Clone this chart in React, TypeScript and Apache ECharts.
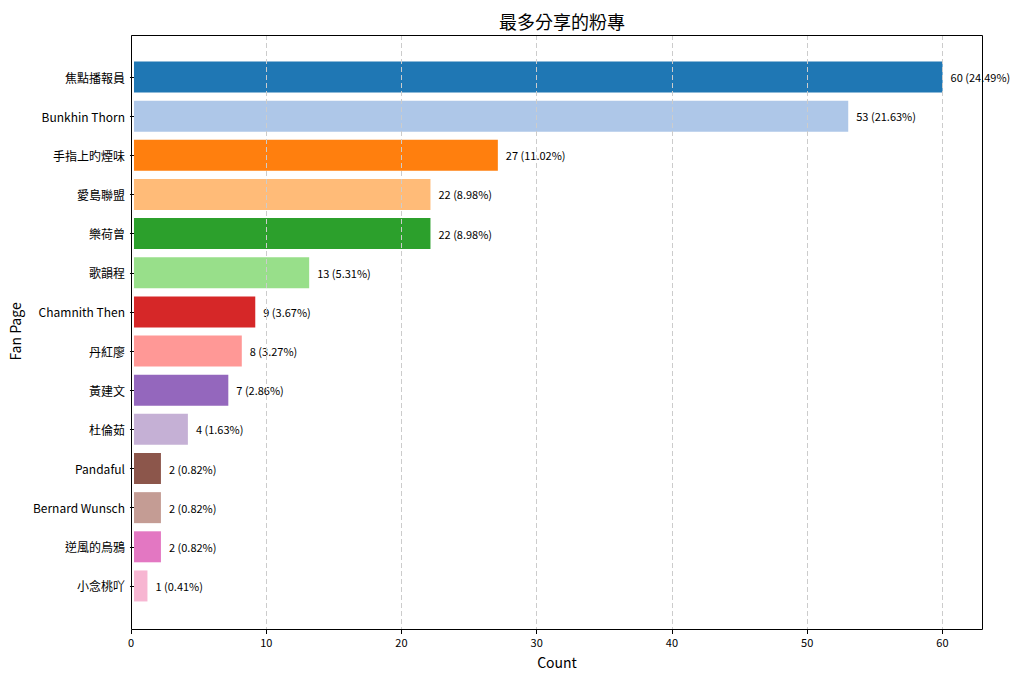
import React, { useEffect, useRef } from "react";
import * as echarts from "echarts";

const categories = [
  "焦點播報員",
  "Bunkhin Thorn",
  "手指上旳煙味",
  "愛島聯盟",
  "樂荷曾",
  "歌韻程",
  "Chamnith Then",
  "丹紅廖",
  "黃建文",
  "杜倫茹",
  "Pandaful",
  "Bernard Wunsch",
  "逆風的烏鴉",
  "小念桃吖",
];
const counts = [60, 53, 27, 22, 22, 13, 9, 8, 7, 4, 2, 2, 2, 1];
const percents = ["24.49", "21.63", "11.02", "8.98", "8.98", "5.31", "3.67", "3.27", "2.86", "1.63", "0.82", "0.82", "0.82", "0.41"];
const colors = [
  "#1f77b4", "#aec7e8", "#ff7f0e", "#ffbb78", "#2ca02c", "#98df8a", "#d62728",
  "#ff9896", "#9467bd", "#c5b0d5", "#8c564b", "#c49c94", "#e377c2", "#f7b6d2",
];
const xTicks = [0, 10, 20, 30, 40, 50, 60];

const FONT = '"Noto Sans CJK TC", "Noto Sans CJK SC", "Noto Sans", sans-serif';

export default function App() {
  const ref = useRef<HTMLDivElement>(null);
  useEffect(() => {
    document.body.style.margin = "0";
    const chart = echarts.init(ref.current!, null, { renderer: "svg" });
    const left = 131, right = 1024 - 983, top = 35, bottom = 682 - 630;
    const band = 39.15;
    const innerTop = 77 - band / 2;
    const innerH = band * categories.length;
    chart.setOption({
      animation: false,
      textStyle: { fontFamily: FONT },
      title: {
        text: "最多分享的粉專",
        left: 557,
        textAlign: "center",
        top: 7,
        textStyle: { fontFamily: FONT, fontSize: 18, fontWeight: "normal", color: "#000" },
      },
      graphic: [
        {
          type: "rect",
          z: 100,
          shape: { x: left + 0.5, y: top + 0.5, width: 983 - left - 1, height: 630 - top - 1 },
          style: { fill: "none", stroke: "#000", lineWidth: 1 },
          silent: true,
        },
      ],
      grid: [
        { left, right, top, bottom, show: false, containLabel: false },
        { left, right, top: innerTop, height: innerH, containLabel: false },
      ],
      xAxis: [
        {
          type: "value",
          gridIndex: 0,
          min: 0,
          max: 63,
          interval: 10,
          z: 10,
          axisLine: { show: false },
          axisTick: { show: true, length: 4, lineStyle: { color: "#000" }, customValues: xTicks },
          axisLabel: {
            color: "#000",
            fontSize: 11,
            fontFamily: FONT,
            margin: 6,
            customValues: xTicks,
          },
          splitLine: { show: true, lineStyle: { color: "#cccccc", type: [5, 3], width: 1 } },
          name: "Count",
          nameLocation: "middle",
          nameGap: 25,
          nameTextStyle: { fontSize: 14, color: "#000", fontFamily: FONT },
        },
        { type: "value", gridIndex: 1, min: 0, max: 63, show: false },
      ],
      yAxis: [
        { type: "value", gridIndex: 0, show: false, min: 0, max: 1 },
        {
          type: "category",
          gridIndex: 1,
          data: categories,
          inverse: true,
          axisLine: { show: false },
          axisTick: { show: true, length: 4, alignWithLabel: true, lineStyle: { color: "#000" } },
          axisLabel: { color: "#000", fontSize: 12, fontFamily: FONT, margin: 9 },
          splitLine: { show: false },
          name: "Fan Page",
          nameLocation: "middle",
          nameGap: 106,
          nameRotate: 90,
          nameTextStyle: { fontSize: 14, color: "#000", fontFamily: FONT },
        },
      ],
      series: [
        {
          type: "bar",
          xAxisIndex: 1,
          yAxisIndex: 1,
          barWidth: 31,
          data: counts.map((v, i) => ({
            value: v,
            itemStyle: { color: colors[i], borderColor: colors[i], borderWidth: 0 },
          })),
          label: {
            show: true,
            position: "right",
            distance: 8,
            color: "#000",
            fontSize: 11,
            fontFamily: FONT,
            formatter: (p: any) => `${p.value} (${percents[p.dataIndex]}%)`,
          },
        },
      ],
    });
    return () => chart.dispose();
  }, []);
  return <div ref={ref} style={{ width: 1024, height: 682 }} />;
}
